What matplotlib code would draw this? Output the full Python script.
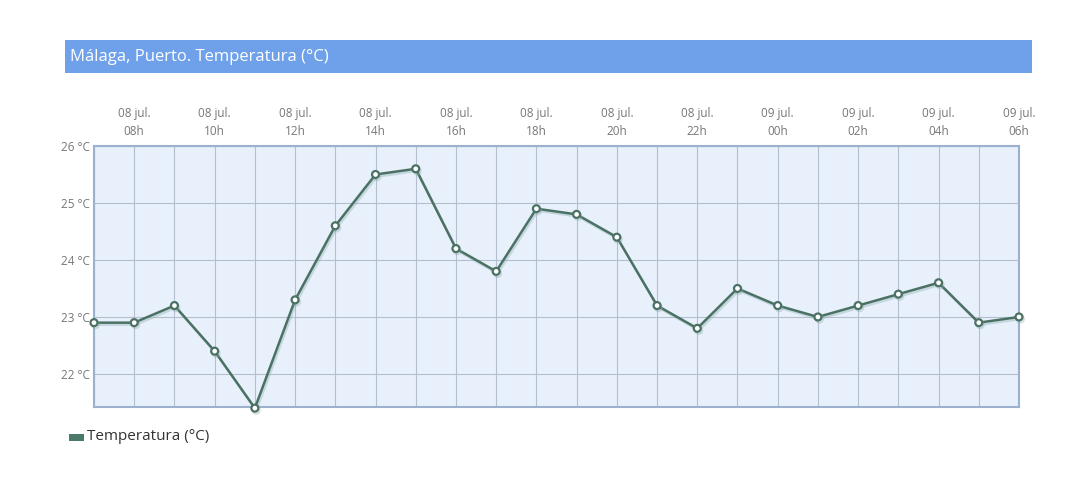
import matplotlib.pyplot as plt
import matplotlib.patheffects as pe
from matplotlib.patches import Rectangle

plt.rcParams['font.family'] = ['Open Sans', 'DejaVu Sans']

# hourly temperatures, 08 jul 07h .. 09 jul 06h
hours = ['07h', '08h', '09h', '10h', '11h', '12h', '13h', '14h', '15h', '16h', '17h', '18h',
         '19h', '20h', '21h', '22h', '23h', '00h', '01h', '02h', '03h', '04h', '05h', '06h']
days = ['08 jul.'] * 17 + ['09 jul.'] * 7
temps = [22.9, 22.9, 23.2, 22.4, 21.4, 23.3, 24.6, 25.5, 25.6, 24.2, 23.8, 24.9,
         24.8, 24.4, 23.2, 22.8, 23.5, 23.2, 23.0, 23.2, 23.4, 23.6, 22.9, 23.0]
yticks = [22, 23, 24, 25, 26]

line_col = '#4b7164'
x = list(range(len(temps)))

fig = plt.figure(figsize=(10.91, 4.93), dpi=100)
fig.patch.set_facecolor('white')

# title bar
fig.patches.append(Rectangle((65/1091, 1-73/493), (1032-65)/1091, 33/493,
                             transform=fig.transFigure, facecolor='#6fa1ea', edgecolor='none'))
fig.text(70/1091, 1-57/493, 'Málaga, Puerto. Temperatura (°C)', color='white',
         fontsize=12, va='center', ha='left')

ax = fig.add_axes([94/1091, 1-407/493, (1019-94)/1091, (407-146)/493])
ax.set_facecolor('#e7f0fb')
ax.plot(x, temps, color=line_col, lw=1.8, marker='o', ms=5, mfc='white', mec=line_col,
        mew=1.6, zorder=3, clip_on=False,
        path_effects=[pe.SimpleLineShadow(offset=(1, -1.5), shadow_color='#8aa', alpha=0.35),
                      pe.Normal()])

ax.set_xlim(0, len(temps) - 1)
ax.set_ylim(21.42, 26)
ax.set_xticks(x)
ax.set_xticklabels([])
ax.set_yticks(yticks)
ax.set_yticklabels([f'{t} °C' for t in yticks], color='#777777', fontsize=8.5)
ax.grid(True, color='#b3bfcf', lw=0.8)
ax.tick_params(length=0, pad=3)
for s in ax.spines.values():
    s.set_color('#9bb1cd')
    s.set_linewidth(1.5)

# top labels every 2 hours
for i in range(1, len(temps), 2):
    ax.text(i, 1.03, f'{days[i]}\n{hours[i]}', transform=ax.get_xaxis_transform(),
            ha='center', va='bottom', fontsize=8.5, color='#777777', linespacing=1.55)

# legend
fig.patches.append(Rectangle((69/1091, 1-441/493), 15/1091, 7/493,
                             transform=fig.transFigure, facecolor='#4b7a6a', edgecolor='none'))
fig.text(87/1091, 1-437/493, 'Temperatura (°C)', color='#333333', fontsize=11,
         va='center', ha='left')

fig.savefig('out.png', dpi=100)
